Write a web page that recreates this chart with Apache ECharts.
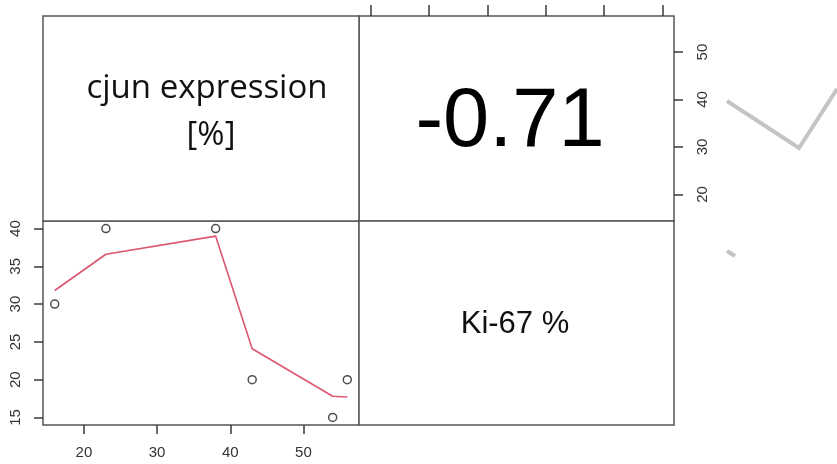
<!DOCTYPE html>
<html>
<head>
<meta charset="utf-8">
<script src="https://cdn.jsdelivr.net/npm/echarts@6/dist/echarts.min.js"></script>
<style>html,body{margin:0;padding:0;background:#fff}#c{width:837px;height:464px}</style>
</head>
<body>
<div id="c"></div>
<script>
// ---- data ----
const varNames = ['cjun expression\n[%]', 'Ki-67 %'];
const cjun = [16, 23, 38, 43, 54, 56];          // x of lower-left panel
const ki67 = [30, 40, 40, 20, 15, 20];          // y of lower-left panel
const smoothX = [16, 23, 38, 43, 54, 56];
const smoothY = [31.8, 36.6, 39.0, 24.1, 17.8, 17.7];
const corrLabel = '-0.71';
const cjunTicks = [20, 30, 40, 50];
const kiTicks = [15, 20, 25, 30, 35, 40];
const kiTopTicks = [15, 20, 25, 30, 35, 40];
const cjunRightTicks = [20, 30, 40, 50];

function rng(a) {
  const mn = Math.min(...a), mx = Math.max(...a), e = (mx - mn) * 0.04;
  return [mn - e, mx + e];
}
const cr = rng(cjun), kr = rng(ki67);

const boxStyle = {show: true, borderColor: '#555', borderWidth: 1.5, backgroundColor: '#fff'};
const tickStyle = {lineStyle: {color: '#3a3a3a', width: 1.5}};
const labelFont = {fontFamily: 'Liberation Sans', fontSize: 15, color: '#333'};

const chart = echarts.init(document.getElementById('c'));
chart.setOption({
  animation: false,
  backgroundColor: '#fff',
  grid: [
    Object.assign({left: 43, top: 221, width: 316, height: 204}, boxStyle),
    Object.assign({left: 359, top: 16, width: 315, height: 205}, boxStyle),
    Object.assign({left: 43, top: 16, width: 316, height: 205}, boxStyle),
    Object.assign({left: 359, top: 221, width: 315, height: 204}, boxStyle)
  ],
  xAxis: [
    {gridIndex: 0, type: 'value', min: cr[0], max: cr[1], position: 'bottom',
     splitLine: {show: false}, axisLine: {show: false},
     axisTick: Object.assign({show: true, length: 9, customValues: cjunTicks}, tickStyle),
     axisLabel: Object.assign({margin: 20, customValues: cjunTicks}, labelFont)},
    {gridIndex: 1, type: 'value', min: kr[0], max: kr[1], position: 'top',
     splitLine: {show: false}, axisLine: {show: false},
     axisTick: Object.assign({show: true, length: 11, customValues: kiTopTicks}, tickStyle),
     axisLabel: {show: false}},
    {gridIndex: 2, type: 'value', show: false},
    {gridIndex: 3, type: 'value', show: false}
  ],
  yAxis: [
    {gridIndex: 0, type: 'value', min: kr[0], max: kr[1], position: 'left',
     splitLine: {show: false}, axisLine: {show: false},
     axisTick: Object.assign({show: true, length: 9, customValues: kiTicks}, tickStyle),
     axisLabel: Object.assign({margin: 20, rotate: 90, customValues: kiTicks}, labelFont)},
    {gridIndex: 1, type: 'value', min: cr[0], max: cr[1], position: 'right',
     splitLine: {show: false}, axisLine: {show: false},
     axisTick: Object.assign({show: true, length: 9, customValues: cjunRightTicks}, tickStyle),
     axisLabel: Object.assign({margin: 21, rotate: 90, customValues: cjunRightTicks}, labelFont)},
    {gridIndex: 2, type: 'value', show: false},
    {gridIndex: 3, type: 'value', show: false}
  ],
  series: [
    {type: 'line', xAxisIndex: 0, yAxisIndex: 0, showSymbol: false, symbol: 'none',
     data: smoothX.map((x, i) => [x, smoothY[i]]),
     lineStyle: {color: '#DB5670', width: 1.6}, z: 2},
    {type: 'scatter', xAxisIndex: 0, yAxisIndex: 0, symbol: 'circle', symbolSize: 8,
     data: cjun.map((x, i) => [x, ki67[i]]),
     itemStyle: {color: 'rgba(255,255,255,0)', borderColor: '#222', borderWidth: 1.5}, z: 3}
  ],
  graphic: [
    {type: 'text', x: 207, y: 89, style: {text: 'cjun expression', fontFamily: 'Open Sans', fontSize: 33, fill: '#111', align: 'center', verticalAlign: 'middle'}},
    {type: 'text', x: 211, y: 136, style: {text: '[%]', fontFamily: 'Open Sans', fontSize: 33, fill: '#111', align: 'center', verticalAlign: 'middle'}},
    {type: 'text', x: 510, y: 123, style: {text: corrLabel, fontFamily: 'Liberation Sans', fontSize: 83, fill: '#000', align: 'center', verticalAlign: 'middle'}},
    {type: 'text', x: 515, y: 324, style: {text: varNames[1], fontFamily: 'Liberation Sans', fontSize: 31, fill: '#111', align: 'center', verticalAlign: 'middle'}},
    {type: 'polyline', shape: {points: [[727, 101], [799, 148], [837, 89]]}, style: {stroke: '#c4c4c4', lineWidth: 4, fill: null}},
    {type: 'line', shape: {x1: 727, y1: 251, x2: 735, y2: 256}, style: {stroke: '#c4c4c4', lineWidth: 4}}
  ]
});
</script>
</body>
</html>
